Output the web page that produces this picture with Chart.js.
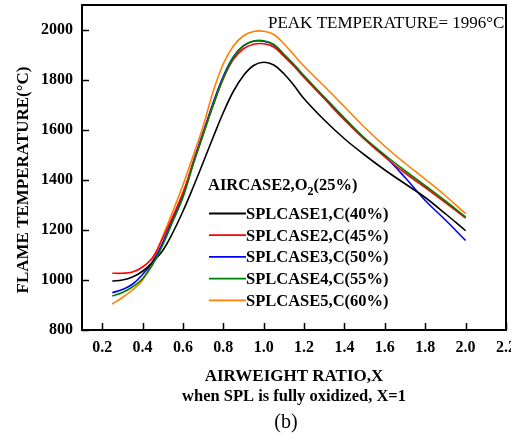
<!DOCTYPE html>
<html>
<head>
<meta charset="utf-8">
<script src="https://cdn.jsdelivr.net/npm/chart.js@4"></script>
<style>
  html, body { margin:0; padding:0; background:#fff; }
  #wrap { width:511px; height:437px; }
</style>
</head>
<body>
<div id="wrap"><canvas id="flameChart" width="511" height="437"></canvas></div>
<script>
const xVals = [0.25,0.3,0.35,0.4,0.45,0.5,0.55,0.6,0.65,0.7,0.75,0.8,0.85,0.9,0.95,1.0,1.05,1.1,1.15,1.2,1.3,1.4,1.5,1.6,1.7,1.8,1.9,2.0];

const case1 = [996,1000,1012,1035,1072,1118,1190,1275,1370,1470,1572,1670,1755,1818,1858,1871,1860,1825,1778,1725,1640,1565,1500,1440,1385,1330,1265,1197];
const case2 = [1027,1027,1032,1052,1090,1168,1255,1350,1465,1585,1700,1805,1883,1925,1943,1945,1932,1895,1855,1810,1725,1640,1562,1492,1428,1370,1310,1248];
const case3 = [949,962,983,1022,1073,1150,1245,1340,1470,1590,1710,1815,1893,1937,1955,1955,1940,1900,1860,1815,1730,1645,1565,1495,1410,1318,1240,1158];
const case4 = [936,950,972,1005,1062,1140,1235,1330,1460,1580,1700,1808,1890,1937,1956,1957,1942,1903,1862,1817,1732,1648,1568,1500,1437,1377,1316,1252];
const case5 = [904,930,960,1000,1078,1175,1275,1380,1495,1615,1755,1865,1936,1977,1994,1995,1982,1945,1900,1855,1775,1693,1610,1535,1467,1403,1337,1265];

const seriesLabels = ["SPLCASE1,C(40%)","SPLCASE2,C(45%)","SPLCASE3,C(50%)","SPLCASE4,C(55%)","SPLCASE5,C(60%)"];
const seriesColors = ["#000000","#ff0000","#0000ff","#008000","#ff8000"];

const xTicks = [0.2,0.4,0.6,0.8,1.0,1.2,1.4,1.6,1.8,2.0,2.2];
const yTicks = [800,1000,1200,1400,1600,1800,2000];

const SERIF = '"Liberation Serif", "Times New Roman", serif';

function pts(ys){ return xVals.map((x,i)=>({x, y: ys[i]})); }

const allSeries = [case1, case2, case3, case4, case5];
const datasets = allSeries.map((ys,i)=>({
    label: seriesLabels[i],
    data: pts(ys),
    borderColor: seriesColors[i],
    backgroundColor: seriesColors[i],
    borderWidth: 1.6,
    pointRadius: 0,
    fill: false,
    tension: 0.4,
    order: i===3 ? -1 : i
}));

// inward ticks, frame and all the loose text
const decor = {
    id: 'decor',
    afterDatasetsDraw(chart){
        const {ctx, chartArea:a, scales} = chart;
        ctx.save();
        ctx.strokeStyle = '#000';
        ctx.lineWidth = 1.5;
        xTicks.forEach(v=>{
            const px = Math.round(scales.x.getPixelForValue(v)) + 0.5;
            ctx.beginPath(); ctx.moveTo(px, a.bottom); ctx.lineTo(px, a.bottom-7); ctx.stroke();
        });
        yTicks.forEach(v=>{
            const py = Math.round(scales.y.getPixelForValue(v)) + 0.5;
            ctx.beginPath(); ctx.moveTo(a.left, py); ctx.lineTo(a.left+7, py); ctx.stroke();
        });
        ctx.lineWidth = 2;
        ctx.strokeRect(a.left, a.top, a.right-a.left, a.bottom-a.top);
        ctx.restore();
    },
    afterDraw(chart){
        const {ctx, chartArea:a} = chart;
        ctx.save();
        ctx.fillStyle = '#000';
        ctx.textBaseline = 'alphabetic';

        ctx.font = '17px ' + SERIF;
        ctx.textAlign = 'left';
        ctx.fillText('PEAK TEMPERATURE= 1996°C', 268, 28);

        // legend title with subscript
        let lx = 208, ly = 190;
        ctx.font = 'bold 16.5px ' + SERIF;
        ctx.fillText('AIRCASE2,O', lx, ly);
        lx += ctx.measureText('AIRCASE2,O').width;
        ctx.font = 'bold 12px ' + SERIF;
        ctx.fillText('2', lx, ly+5);
        lx += ctx.measureText('2').width;
        ctx.font = 'bold 16.5px ' + SERIF;
        ctx.fillText('(25%)', lx, ly);

        chart.data.datasets.forEach((ds,i)=>{
            const y = 213.5 + i*21.7;
            ctx.strokeStyle = ds.borderColor;
            ctx.lineWidth = 1.8;
            ctx.beginPath(); ctx.moveTo(209, y); ctx.lineTo(246, y); ctx.stroke();
            ctx.font = 'bold 16.5px ' + SERIF;
            ctx.fillText(ds.label, 246, y+5.5);
        });

        // axis titles
        const cx = (a.left + a.right)/2;
        ctx.textAlign = 'center';
        ctx.font = 'bold 17px ' + SERIF;
        ctx.fillText('AIRWEIGHT RATIO,X', cx, 381);
        ctx.font = 'bold 16.5px ' + SERIF;
        ctx.fillText('when SPL is fully oxidized, X=1', cx, 401);
        ctx.font = '20px ' + SERIF;
        ctx.fillText('(b)', 286, 428);

        ctx.translate(24, 180);
        ctx.rotate(-Math.PI/2);
        ctx.textBaseline = 'middle';
        ctx.font = 'bold 17px ' + SERIF;
        ctx.fillText('FLAME TEMPERATURE(°C)', 0, 0);
        ctx.restore();
    }
};

new Chart(document.getElementById('flameChart').getContext('2d'), {
    type: 'line',
    data: { datasets },
    options: {
        responsive: false,
        animation: false,
        layout: { padding: { top:5, right:5, left:0, bottom:0 } },
        plugins: { legend:{ display:false }, tooltip:{ enabled:false } },
        scales: {
            x: {
                type: 'linear',
                min: 0.1, max: 2.2,
                grid: { display:false, drawTicks:false },
                border: { display:false },
                afterBuildTicks: s => { s.ticks = xTicks.map(v=>({value:v})); },
                afterFit: s => { s.height = 107; s.paddingLeft = 0; s.paddingRight = 0; },
                ticks: {
                    padding: 8,
                    color: '#000',
                    maxRotation: 0,
                    autoSkip: false,
                    font: { family: SERIF, size: 16, weight: 'bold' },
                    callback: v => Number(v).toFixed(1)
                }
            },
            y: {
                min: 800, max: 2100,
                grid: { display:false, drawTicks:false },
                border: { display:false },
                afterBuildTicks: s => { s.ticks = yTicks.map(v=>({value:v})); },
                afterFit: s => { s.width = 82; s.paddingTop = 0; s.paddingBottom = 0; },
                ticks: {
                    padding: 9,
                    color: '#000',
                    font: { family: SERIF, size: 16, weight: 'bold' },
                    callback: v => String(v)
                }
            }
        }
    },
    plugins: [decor]
});
</script>
</body>
</html>
